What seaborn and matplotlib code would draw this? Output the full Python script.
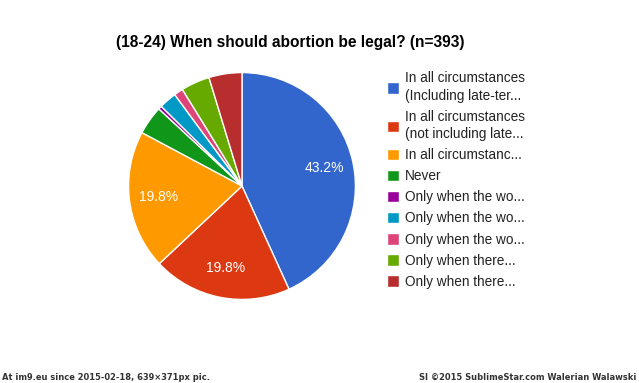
import matplotlib
matplotlib.use("Agg")
import matplotlib.pyplot as plt
import seaborn as sns

# responses, 18-24 age group (n=393), percent
labels = [
    "In all circumstances\n(Including late-ter...",
    "In all circumstances\n(not including late...",
    "In all circumstanc...",
    "Never",
    "Only when the wo...",
    "Only when the wo...",
    "Only when the wo...",
    "Only when there...",
    "Only when there...",
]
shares = [43.2, 19.8, 19.8, 4.1, 0.5, 2.5, 1.3, 4.1, 4.7]
colors = ["#3366cc", "#dc3912", "#ff9900", "#109618", "#990099",
          "#0099c6", "#dd4477", "#66aa00", "#b82e2e"]

sns.set_style("white")
plt.rcParams["font.family"] = ["Liberation Sans", "DejaVu Sans"]

fig = plt.figure(figsize=(6.39, 3.83), dpi=100)
ax = fig.add_axes([0.2003, 0.2167, 0.3568, 0.5953])


def pct(p):
    return "%.1f%%" % p if p > 10 else ""


wedges, texts, autotexts = ax.pie(
    shares, colors=colors, startangle=90, counterclock=False,
    autopct=pct, pctdistance=0.74,
    wedgeprops=dict(edgecolor="white", linewidth=1),
    textprops=dict(color="white", fontsize=10),
)
ax.set_aspect("equal")
ax.set_xlim(-1.005, 1.005)
ax.set_ylim(-1.005, 1.005)

fig.text(0.454, 1 - 42 / 383, "(18-24) When should abortion be legal? (n=393)",
         ha="center", va="center", fontsize=11.2, fontweight="bold", color="black")

leg = fig.legend(wedges, labels, loc="upper left", bbox_to_anchor=(387 / 639, 1 - 71.5 / 383),
                 frameon=False, fontsize=9.8, handlelength=0.9, handleheight=0.9,
                 handletextpad=0.45, labelspacing=0.52, borderpad=0, borderaxespad=0,
                 labelcolor="#222222")
for t in leg.get_texts():
    t.set_linespacing(1.3)

# footer
fig.text(2 / 639, 1 - 377 / 383, "At im9.eu since 2015-02-18, 639×371px pic.",
         ha="left", va="center", fontsize=6.7, fontweight="bold", color="#333333",
         family="DejaVu Sans", fontstretch="condensed")
fig.text(636 / 639, 1 - 377 / 383, "SI ©2015 SublimeStar.com Walerian Walawski",
         ha="right", va="center", fontsize=6.7, fontweight="bold", color="#333333",
         family="DejaVu Sans", fontstretch="condensed")

fig.savefig("out.png", dpi=100)
